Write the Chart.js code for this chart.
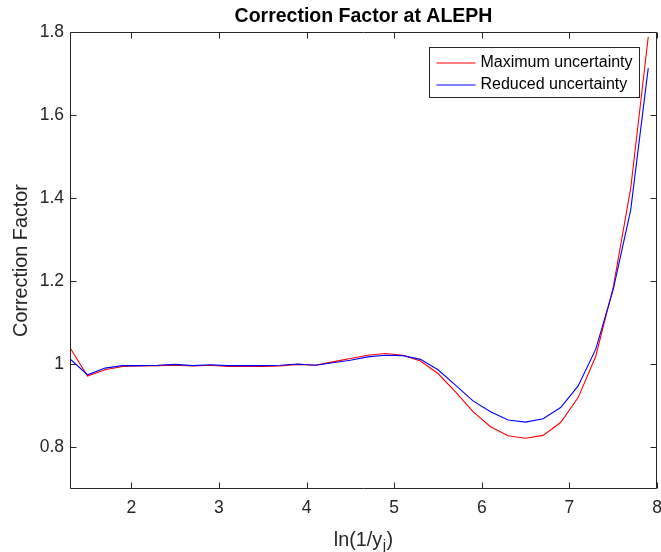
<!DOCTYPE html>
<html><head><meta charset="utf-8">
<script src="https://cdn.jsdelivr.net/npm/chart.js@4.4.0/dist/chart.umd.min.js"></script>
<style>html,body{margin:0;padding:0;background:#fff;}</style>
</head><body>
<canvas id="c" width="661" height="552"></canvas>
<script>
const titleText = 'Correction Factor at ALEPH';
const yAxisLabel = 'Correction Factor';
const xAxisLabelParts = ['ln(1/y', 'j', ')'];
const seriesNames = ['Maximum uncertainty', 'Reduced uncertainty'];
const seriesColors = ['#ff0000', '#0000ff'];
const xValues = [1.3,1.5,1.7,1.9,2.1,2.3,2.5,2.7,2.9,3.1,3.3,3.5,3.7,3.9,4.1,4.3,4.5,4.7,4.9,5.1,5.3,5.5,5.7,5.9,6.1,6.3,6.5,6.7,6.9,7.1,7.3,7.5,7.7,7.9];
const maxUncertainty = [1.040,0.972,0.987,0.995,0.996,0.997,0.998,0.996,0.998,0.995,0.995,0.995,0.996,1.000,0.998,1.006,1.014,1.022,1.026,1.022,1.008,0.978,0.934,0.886,0.850,0.828,0.822,0.829,0.860,0.920,1.019,1.185,1.424,1.788];
const reducedUncertainty = [1.013,0.975,0.991,0.997,0.997,0.998,1.000,0.997,0.999,0.997,0.997,0.997,0.998,1.001,0.998,1.004,1.010,1.018,1.022,1.021,1.012,0.987,0.950,0.912,0.886,0.866,0.861,0.869,0.896,0.948,1.036,1.180,1.372,1.713];
const xTicks = [2,3,4,5,6,7,8];
const xTickLabels = ['2','3','4','5','6','7','8'];
const yTicks = [0.8,1,1.2,1.4,1.6,1.8];
const yTickLabels = ['0.8','1','1.2','1.4','1.6','1.8'];
const xRange = [1.3, 8];
const yRange = [0.7, 1.8];

const FONT = '"Liberation Sans", Arial, Helvetica, sans-serif';
const axisColor = '#262626';
Chart.defaults.font.family = FONT;

const toPts = (ys) => xValues.map((x, i) => ({x: x, y: ys[i]}));

const matlabPlugin = {
  id: 'matlabBox',
  afterDraw(chart) {
    const {ctx, chartArea: a, scales: {x, y}} = chart;
    ctx.save();
    ctx.strokeStyle = axisColor;
    ctx.lineWidth = 1;
    const L = Math.round(a.left) + 0.5, R = Math.round(a.right) - 0.5;
    const T = Math.round(a.top) + 0.5, B = Math.round(a.bottom) - 0.5;
    const tl = 6;
    ctx.beginPath();
    ctx.rect(L, T, R - L, B - T);
    xTicks.forEach(v => {
      const px = Math.round(x.getPixelForValue(v)) + 0.5;
      ctx.moveTo(px, B); ctx.lineTo(px, B - tl);
      ctx.moveTo(px, T); ctx.lineTo(px, T + tl);
    });
    yTicks.forEach(v => {
      const py = Math.round(y.getPixelForValue(v)) + 0.5;
      ctx.moveTo(L, py); ctx.lineTo(L + tl, py);
      ctx.moveTo(R, py); ctx.lineTo(R - tl, py);
    });
    ctx.stroke();

    // x-axis label with subscript
    const mainFont = '19.8px ' + FONT;
    const subFont = '15px ' + FONT;
    ctx.fillStyle = axisColor;
    ctx.textBaseline = 'alphabetic';
    ctx.textAlign = 'left';
    ctx.font = mainFont; const w0 = ctx.measureText(xAxisLabelParts[0]).width;
    const w2 = ctx.measureText(xAxisLabelParts[2]).width;
    ctx.font = subFont; const w1 = ctx.measureText(xAxisLabelParts[1]).width;
    const total = w0 + w1 + w2 + 1;
    let cx = (a.left + a.right) / 2 - total / 2;
    const base = 546;
    ctx.font = mainFont; ctx.fillText(xAxisLabelParts[0], cx, base); cx += w0 + 0.5;
    ctx.font = subFont; ctx.fillText(xAxisLabelParts[1], cx, base + 4); cx += w1 + 0.5;
    ctx.font = mainFont; ctx.fillText(xAxisLabelParts[2], cx, base);

    // legend
    ctx.font = '16px ' + FONT;
    const tw = Math.max(...seriesNames.map(n => ctx.measureText(n).width));
    const lineLen = 39, padL = 7, gap = 5, padR = 7;
    const boxW = Math.round(padL + lineLen + gap + tw + padR);
    const boxR = Math.round(a.right) - 17.5;
    const boxL = boxR - boxW;
    const boxT = Math.round(a.top) + 15.5;
    const boxH = 50;
    ctx.fillStyle = '#ffffff';
    ctx.fillRect(boxL, boxT, boxW, boxH);
    ctx.strokeStyle = axisColor;
    ctx.lineWidth = 1;
    ctx.strokeRect(boxL, boxT, boxW, boxH);
    const rows = [15.5, 37];
    seriesNames.forEach((name, i) => {
      const ry = Math.round(boxT + rows[i]);
      ctx.beginPath();
      ctx.strokeStyle = seriesColors[i];
      ctx.lineWidth = 1.2;
      ctx.moveTo(boxL + padL, ry); ctx.lineTo(boxL + padL + lineLen, ry);
      ctx.stroke();
      ctx.fillStyle = '#000000';
      ctx.textBaseline = 'middle';
      ctx.fillText(name, boxL + padL + lineLen + gap, ry);
    });
    ctx.restore();
  }
};

new Chart(document.getElementById('c'), {
  type: 'line',
  data: {
    datasets: [
      {label: seriesNames[0], data: toPts(maxUncertainty), borderColor: seriesColors[0], borderWidth: 1.1, pointRadius: 0, tension: 0, fill: false, order: 1},
      {label: seriesNames[1], data: toPts(reducedUncertainty), borderColor: seriesColors[1], borderWidth: 1.1, pointRadius: 0, tension: 0, fill: false, order: 0}
    ]
  },
  options: {
    responsive: false,
    animation: false,
    devicePixelRatio: 1,
    layout: {padding: {top: 0, right: 4, bottom: 0, left: 0}},
    plugins: {
      legend: {display: false},
      tooltip: {enabled: false},
      title: {
        display: true, text: titleText, fullSize: false, color: '#000000',
        font: {size: 19.5, weight: 'bold', family: FONT},
        padding: {top: 4.6, bottom: 4}
      }
    },
    scales: {
      x: {
        type: 'linear', min: xRange[0], max: xRange[1],
        grid: {display: false, drawTicks: false},
        border: {display: false},
        afterBuildTicks: s => { s.ticks = xTicks.map(v => ({value: v})); },
        ticks: {
          color: axisColor, font: {size: 17.5}, padding: 9, maxRotation: 0, autoSkip: false,
          callback: v => xTickLabels[xTicks.indexOf(v)]
        },
        afterFit: s => { s.height = 63; s.paddingLeft = 0; s.paddingRight = 0; }
      },
      y: {
        type: 'linear', min: yRange[0], max: yRange[1],
        grid: {display: false, drawTicks: false},
        border: {display: false},
        afterBuildTicks: s => { s.ticks = yTicks.map(v => ({value: v})); },
        ticks: {
          color: axisColor, font: {size: 17.5}, padding: 6, autoSkip: false,
          callback: v => yTickLabels[yTicks.indexOf(v)]
        },
        title: {
          display: true, text: yAxisLabel, color: axisColor,
          font: {size: 19.8}, padding: {top: 9.5, bottom: 0}
        },
        afterFit: s => { s.width = 70; s.paddingTop = 0; s.paddingBottom = 0; }
      }
    }
  },
  plugins: [matlabPlugin]
});
</script>
</body></html>
